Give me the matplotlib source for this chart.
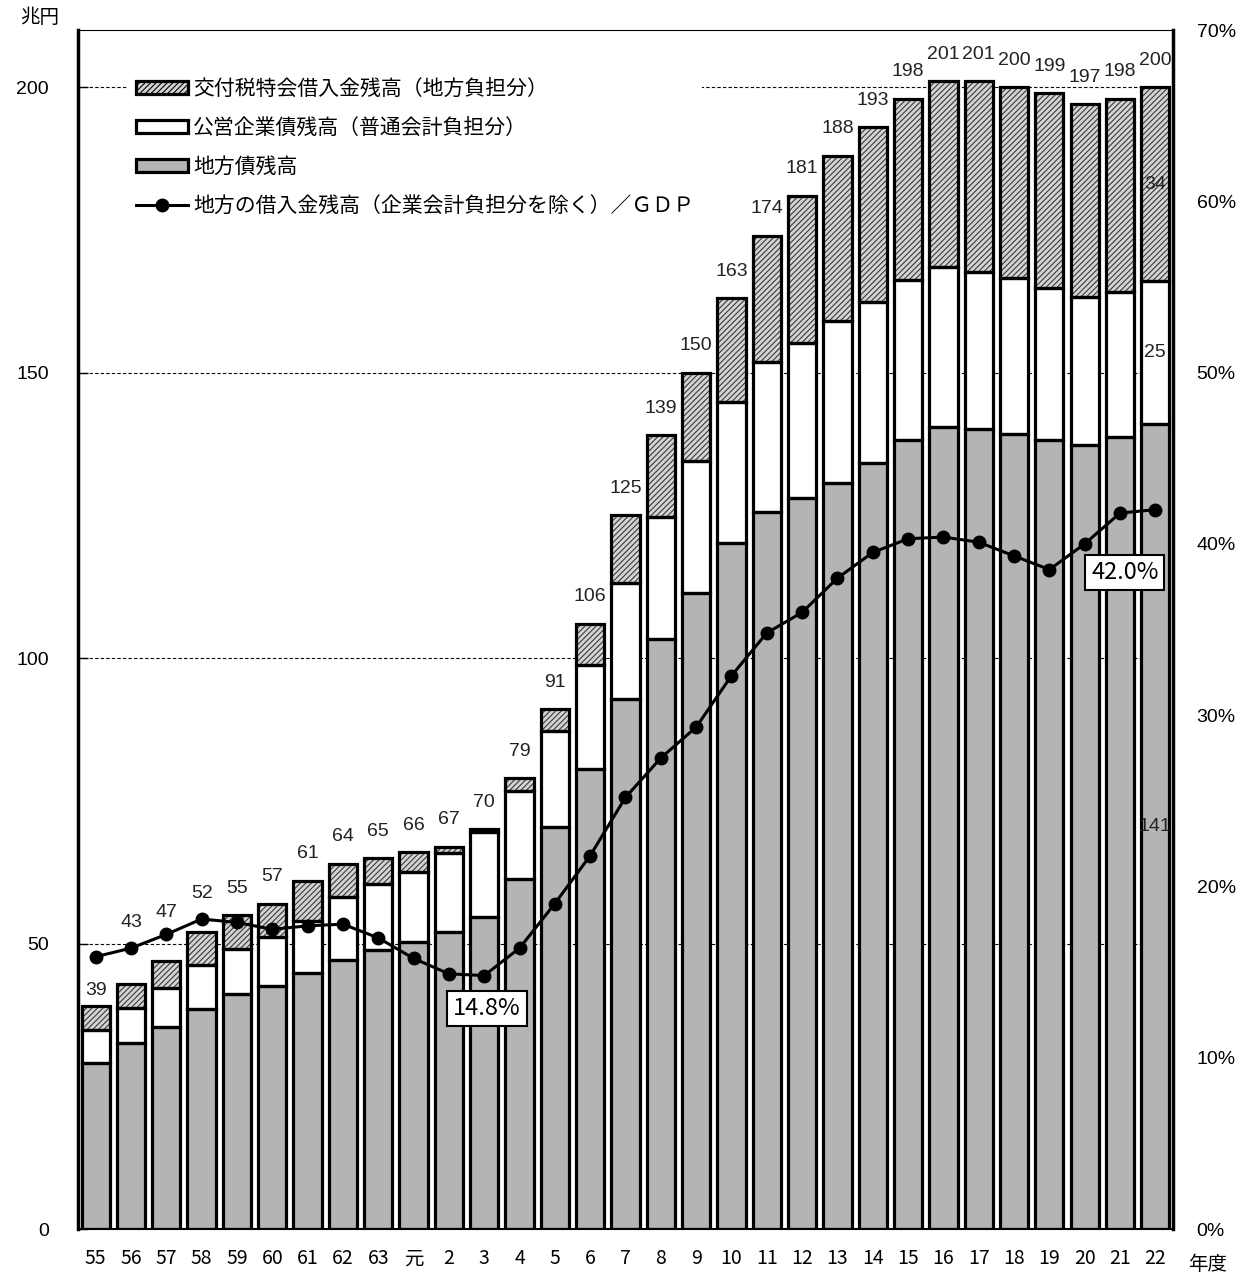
import numpy as np
import matplotlib
matplotlib.use("Agg")
import matplotlib.pyplot as plt
from matplotlib.patches import Patch
from matplotlib.lines import Line2D

plt.rcParams['hatch.linewidth'] = 0.8

# Fiscal years (Showa 55 .. Heisei 22)
years = ['55', '56', '57', '58', '59', '60', '61', '62', '63', '元',
         '2', '3', '4', '5', '6', '7', '8', '9', '10', '11', '12', '13',
         '14', '15', '16', '17', '18', '19', '20', '21', '22']

# Totals (trillion yen) as labelled above each bar
totals = [39, 43, 47, 52, 55, 57, 61, 64, 65, 66, 67, 70, 79, 91, 106, 125,
          139, 150, 163, 174, 181, 188, 193, 198, 201, 201, 200, 199, 197, 198, 200]

# 地方債残高
chihosai = [29.1, 32.6, 35.4, 38.6, 41.2, 42.5, 44.9, 47.2, 48.9, 50.2, 52.1,
            54.7, 61.3, 70.4, 80.5, 92.8, 103.3, 111.4, 120.2, 125.6, 128.1,
            130.7, 134.2, 138.2, 140.5, 140.2, 139.3, 138.2, 137.4, 138.8, 141]

# 公営企業債残高（普通会計負担分）
koei = [5.8, 6.2, 6.9, 7.7, 7.9, 8.6, 9.1, 10.9, 11.6, 12.3, 13.7, 14.8, 15.5,
        16.8, 18.3, 20.4, 21.4, 23.2, 24.7, 26.2, 27.0, 28.4, 28.1, 28.1, 28.0,
        27.4, 27.2, 26.7, 25.8, 25.4, 25]

# 地方の借入金残高 / GDP (%)
ratio = [15.9, 16.4, 17.2, 18.1, 17.9, 17.5, 17.7, 17.8, 17.0, 15.8, 14.9,
         14.8, 16.4, 19.0, 21.8, 25.2, 27.5, 29.3, 32.3, 34.8, 36.0, 38.0,
         39.5, 40.3, 40.4, 40.1, 39.3, 38.5, 40.0, 41.8, 42.0]

legend_labels = ['交付税特会借入金残高（地方負担分）',
                 '公営企業債残高（普通会計負担分）',
                 '地方債残高',
                 '地方の借入金残高（企業会計負担分を除く）／ＧＤＰ']

jp = ['Noto Sans CJK JP', 'DejaVu Sans']
num = ['Liberation Sans', 'DejaVu Sans']

x = np.arange(len(years))
chihosai = np.array(chihosai)
koei = np.array(koei)
kofu = np.array(totals) - chihosai - koei

gray_c = '#b4b4b4'
hatch_face = '#d4d4d4'
w = 0.8
edge_lw = 2.3

fig = plt.figure(figsize=(12.44, 12.78), dpi=100)
ax = fig.add_axes([0.0627, 0.0383, 0.8802, 0.9382])

# dashed reference lines behind the bars
for v in [50, 100, 150, 200]:
    ax.axhline(v, color='black', lw=0.8, ls=(0, (3, 2)), zorder=0)

# filled segments
ax.bar(x, chihosai, w, color=gray_c, lw=0, zorder=2)
ax.bar(x, koei, w, bottom=chihosai, color='white', lw=0, zorder=2)
ax.bar(x, kofu, w, bottom=chihosai + koei, color=hatch_face,
       edgecolor='#3a3a3a', hatch='//////', lw=0, zorder=2)
# thick outlines for every segment
for vals, base in [(chihosai, 0), (koei, chihosai), (kofu, chihosai + koei)]:
    ax.bar(x, vals, w, bottom=base, fill=False, edgecolor='black',
           lw=edge_lw, zorder=3)

# total labels; the first few are lifted clear of the ratio line
lift = {0: 2.8, 1: 10.7, 2: 8.4, 3: 6.8}
for i, (xi, t) in enumerate(zip(x, totals)):
    ax.text(xi, t + lift.get(i, 4.7), str(t), ha='center', va='center',
            fontsize=14, family=num, color='#222222', zorder=5)

# segment labels on the last bar
last = len(x) - 1
seg_mid = [chihosai[last] / 2,
           chihosai[last] + koei[last] / 2,
           chihosai[last] + koei[last] + kofu[last] / 2]
for yv, val in zip(seg_mid, [chihosai[last], koei[last], kofu[last]]):
    ax.text(x[last], yv, f'{val:g}', ha='center', va='center', fontsize=14,
            family=num, color='#222222', zorder=5)

ax.set_xlim(-0.5, len(x) - 0.5)
ax.set_ylim(0, 210)
ax.set_yticks([0, 50, 100, 150, 200])
ax.set_xticks(x)
ax.set_xticklabels(years, family=jp, fontsize=14)
ax.tick_params(axis='x', length=0, pad=14)
ax.tick_params(axis='y', direction='in', length=7, width=1, pad=21,
               labelsize=14)
for lab in ax.get_yticklabels():
    lab.set_family(num)

ax.spines['left'].set_linewidth(2.5)
ax.spines['bottom'].set_linewidth(1.5)
ax.spines['top'].set_linewidth(0.8)
ax.spines['top'].set_linestyle((0, (1, 1)))
ax.spines['right'].set_visible(False)

# ratio line on the right axis
ax2 = ax.twinx()
ax2.set_ylim(0, 70)
ax2.set_yticks(np.arange(0, 71, 10))
ax2.set_yticklabels([f'{v}%' for v in range(0, 71, 10)], family=num,
                    fontsize=14)
ax2.tick_params(axis='y', direction='in', length=0, pad=17)
ax2.spines['right'].set_linewidth(2.5)
ax2.spines['left'].set_visible(False)
ax2.spines['top'].set_visible(False)
ax2.spines['bottom'].set_visible(False)
ax2.plot(x, ratio, color='black', lw=2.2, marker='o', markersize=9, zorder=4)

box = dict(boxstyle='square,pad=0.25', fc='white', ec='black', lw=1.5)
i_min = int(np.argmin(ratio))
ax2.annotate(f'{ratio[i_min]:.1f}%', (x[i_min], ratio[i_min]),
             xytext=(2, -24), textcoords='offset points', ha='center',
             va='center', fontsize=17, family=jp, bbox=box, zorder=6)
ax2.annotate(f'{ratio[last]:.1f}%', (x[last], ratio[last]),
             xytext=(-22, -45), textcoords='offset points', ha='center',
             va='center', fontsize=17, family=jp, bbox=box, zorder=6)

# legend
handles = [Patch(facecolor=hatch_face, edgecolor='black', lw=2.3, hatch='//////'),
           Patch(facecolor='white', edgecolor='black', lw=2.3),
           Patch(facecolor=gray_c, edgecolor='black', lw=2.3),
           Line2D([], [], color='black', lw=2.2, marker='o', markersize=9)]
leg = ax2.legend(handles, legend_labels, loc='upper left',
                 bbox_to_anchor=(0.045, 0.967), frameon=True,
                 prop={'family': jp, 'size': 15}, handlelength=2.5,
                 handleheight=0.55, handletextpad=0.25, labelspacing=0.82,
                 borderpad=0.4, borderaxespad=0)
leg.get_frame().set_facecolor('white')
leg.get_frame().set_edgecolor('none')
leg.get_frame().set_alpha(1)
leg.set_zorder(10)

fig.text(0.016, 0.986, '兆円', family=jp, fontsize=14, va='center')
fig.text(0.955, 0.002, '年度', family=jp, fontsize=14, va='bottom')

fig.savefig('out.png', dpi=100, facecolor='white')
